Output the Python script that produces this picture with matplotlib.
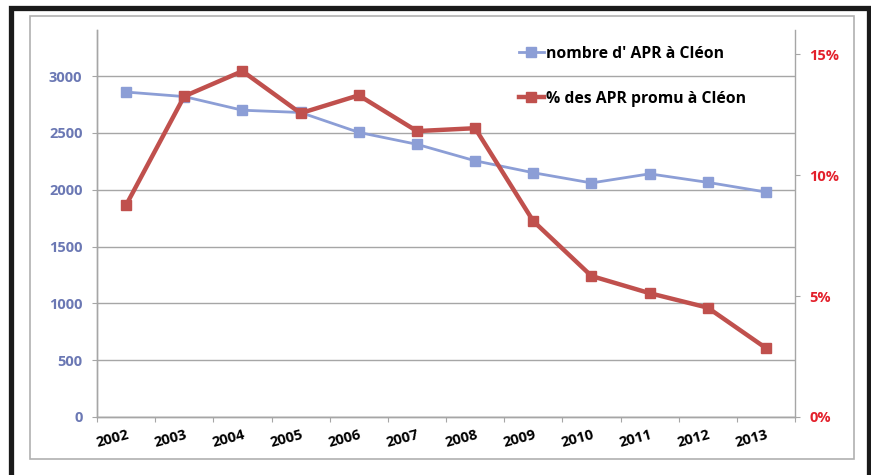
import matplotlib
matplotlib.use("Agg")
import matplotlib.pyplot as plt
import matplotlib.transforms as mtransforms
from matplotlib.patches import Rectangle
import numpy as np

plt.rcParams['font.family'] = ['Open Sans', 'DejaVu Sans']
plt.rcParams['font.weight'] = 'bold'

years = ["2002", "2003", "2004", "2005", "2006", "2007",
         "2008", "2009", "2010", "2011", "2012", "2013"]
nombre_apr = [2860, 2820, 2700, 2680, 2505, 2400, 2255, 2150, 2060, 2140, 2065, 1980]
pct_promu = [8.76, 13.26, 14.30, 12.56, 13.30, 11.82, 11.94, 8.10, 5.83, 5.12, 4.52, 2.85]

BLUE = "#8C9ED6"
RED = "#C0504D"
GRID = "#A6A6A6"

fig = plt.figure(figsize=(8.71, 4.75), dpi=100)
W, H = 871, 475

# frames round the chart
fig.patches.append(Rectangle((30 / W, 1 - 459 / H), (854 - 30) / W, (459 - 15.5) / H,
                             transform=fig.transFigure, fill=False,
                             edgecolor="#B0B0B0", linewidth=1.2))
fig.patches.append(Rectangle((10.5 / W, -0.1), (868.5 - 10.5) / W, 1.1 - 8.5 / H,
                             transform=fig.transFigure, fill=False,
                             edgecolor="#1A1A1A", linewidth=3.8))

ax = fig.add_axes([97 / W, 1 - 417 / H, (795 - 97) / W, (417 - 30) / H])
ax2 = ax.twinx()

x = np.arange(len(years))
l1, = ax.plot(x, nombre_apr, color=BLUE, lw=2, marker="s", ms=6.5,
              label="nombre d' APR à Cléon", zorder=3)
l2, = ax2.plot(x, pct_promu, color=RED, lw=3.2, marker="s", ms=7,
               label="% des APR promu à Cléon", zorder=4)

ax.set_xlim(-0.5, len(years) - 0.5)
ax.set_ylim(0, 3406)
ax2.set_ylim(0, 16.0)

ax.set_yticks(np.arange(0, 3001, 500))
ax.yaxis.grid(True, color=GRID, lw=1)
ax.set_axisbelow(True)
ax.tick_params(axis="y", colors=GRID, labelcolor="#6B78B4", labelsize=10.5,
               length=3.5, direction="out", pad=7)

ax2.set_yticks([0, 5, 10, 15])
ax2.set_yticklabels(["0%", "5%", "10%", "15%"])
ax2.tick_params(axis="y", colors=GRID, labelcolor="#E3202B", labelsize=10.5,
                length=3.5, direction="out", pad=7)

# category boundaries as ticks, labels at centres
ax.set_xticks(np.arange(-0.5, len(years), 1.0))
ax.set_xticklabels([])
ax.set_xticks(x, minor=True)
ax.set_xticklabels(years, minor=True, rotation=15, fontsize=10.5, color="black")
ax.tick_params(axis="x", which="major", colors=GRID, length=3.5, direction="out")
ax.tick_params(axis="x", which="minor", length=0, pad=8)
offset = mtransforms.ScaledTranslation(-14 / 100, 0, fig.dpi_scale_trans)
for lab in ax.get_xticklabels(minor=True):
    lab.set_transform(lab.get_transform() + offset)

for a in (ax, ax2):
    a.spines["top"].set_visible(False)
    for s in ("left", "right", "bottom"):
        a.spines[s].set_color(GRID)
        a.spines[s].set_linewidth(1)
ax.spines["right"].set_visible(False)

ax2.legend([l1, l2], [l1.get_label(), l2.get_label()], loc="upper left",
           bbox_to_anchor=(511 / W, 1 - 38 / H), bbox_transform=fig.transFigure,
           frameon=False, fontsize=11.3, handlelength=1.6, handletextpad=0.1,
           labelspacing=1.85, borderpad=0)

fig.savefig("out.png", dpi=100)
